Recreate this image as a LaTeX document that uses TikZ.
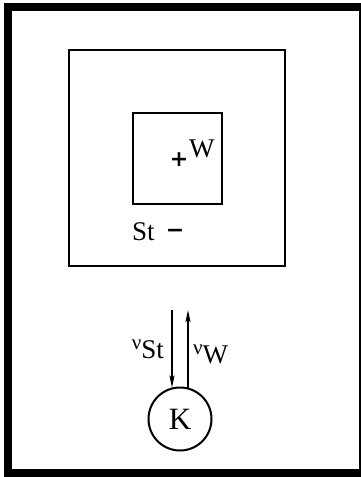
\documentclass[tikz,border=0pt]{standalone}
\usepackage{fontspec}
\setmainfont{Liberation Serif}
\newfontfamily\symfont{DejaVu Sans}
\usetikzlibrary{arrows.meta}
\newcommand{\nuup}{\raisebox{0.3em}{\fontsize{21}{22}\selectfont ν}}
\begin{document}
\begin{tikzpicture}[x=1pt,y=-1pt,
  lbl/.style={font=\fontsize{27}{30}\selectfont, inner sep=0pt},
  sym/.style={font=\symfont\bfseries\fontsize{22}{24}\selectfont, inner sep=0pt},
  box/.style={draw, line width=2pt},
  flow/.style={line width=1.4pt, -{Stealth[length=12pt,width=5pt,inset=2pt]}}]
\useasboundingbox (0,0) rectangle (361,477);
\draw[line width=8pt] (8,7) rectangle (363,473);
\node[box, minimum width=216pt, minimum height=216pt, inner sep=0pt] (outer) at (177,158) {};
\node[box, minimum width=89pt, minimum height=91pt, inner sep=0pt] (inner) at (177.5,158.5) {};
\node[sym, anchor=center] (plus) at (179,160) {+};
\node[lbl, anchor=base west] (W) at (189,157) {W};
\node[lbl, anchor=base west] (St) at (132,240) {St};
\node[sym, anchor=center] (minus) at (175,233) {−};
\node[draw, circle, line width=2pt, minimum size=63pt, inner sep=0pt,
      font=\fontsize{31}{33}\selectfont] (K) at (180,419) {K};
\coordinate (t1) at (172,310);
\coordinate (t2) at (188,310);
\draw[flow] (t1) -- (t1 |- K.105);
\draw[flow] (t2 |- K.75) -- (t2);
\node[lbl, anchor=base east] (lSt) at (164,358) {\nuup St};
\node[lbl, anchor=base west] (lW) at (193,363) {\nuup W};
\end{tikzpicture}
\end{document}
